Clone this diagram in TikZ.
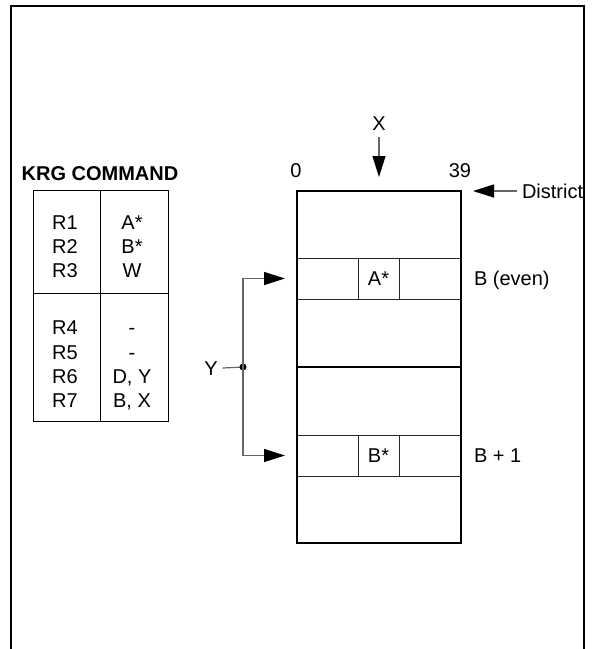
\documentclass[tikz,border=0pt]{standalone}
\usepackage{fontspec}
\setmainfont{Liberation Sans}
\usetikzlibrary{arrows.meta,positioning}

\tikzset{
    txt/.style={inner sep=0pt, outer sep=0pt, text height=14.3pt, text depth=0pt},
    cell/.style={draw=black!85, line width=0.8pt, minimum height=41pt, inner sep=0pt, outer sep=0pt},
    feed/.style={draw=black!60, line width=1.2pt},
}

\begin{document}
\begin{tikzpicture}[x=1pt,y=-1pt,font=\fontsize{20}{24}\selectfont,
        >={Triangle[length=21pt,width=13pt,color=black]}]
    \useasboundingbox (0,0) rectangle (595,649);
    % frame, open at the bottom
    \draw[line width=2pt] (11,649) -- (11,6) -- (584,6) -- (584,649);

    % command table
    \node[txt, font=\bfseries\fontsize{20}{24}\selectfont] (krg) at (100,173) {KRG COMMAND};
    \draw[line width=1pt] (33,190) rectangle (168,421);
    \draw[line width=1pt] (100,190) -- (100,421) (33,293) -- (168,293);
    \foreach \r/\v/\y in {1/A*/222, 2/B*/246, 3/W/270, 4/-/327, 5/-/352, 6/{D, Y}/376, 7/{B, X}/400} {
        \node[txt] (r\r) at (65,\y) {R\r};
        \node[txt] (v\r) at (132,\y) {\v};
    }

    % district rows
    \foreach \row/\y/\t in {a/278.5/A*, b/455.5/B*} {
        \node[cell, minimum width=61pt] (\row l) at (327.5,\y) {};
        \node[cell, minimum width=41pt, right=0pt of \row l] (\row m) {\t};
        \node[cell, minimum width=62pt, right=0pt of \row m] (\row r) {};
    }
    \node[draw, line width=2pt, minimum width=164pt, minimum height=352pt, inner sep=0pt, outer sep=0pt] (mem) at (379,367) {};
    \draw[line width=2pt] (mem.west) -- (mem.east);

    \node[txt, right=13pt of ar] (even) {B (even)};
    \node[txt, right=13pt of br] (odd) {B + 1};
    \node[txt] (zero) at (296,170) {0};
    \node[txt] (last) at (460,170) {39};

    % X pointer
    \node[txt] (xlab) at (379,123) {X};
    \draw[feed,->] ([yshift=-7pt]xlab.south) -- ([yshift=14pt]mem.north);

    % district pointer
    \node[txt, anchor=west] (dist) at (522,191) {District};
    \draw[feed,->] ([xshift=-5pt]dist.west) -- ([xshift=12pt]mem.north east);

    % Y pointer
    \node[txt] (ylab) at (211,368) {Y};
    \coordinate (split) at (243,367);
    \draw[feed] ([xshift=5pt]ylab.east) -- (split);
    \fill (split) circle (3.5pt);
    \draw[feed,->] (split) |- ([xshift=-12pt]al.west);
    \draw[feed,->] (split) |- ([xshift=-12pt]bl.west);
\end{tikzpicture}
\end{document}
